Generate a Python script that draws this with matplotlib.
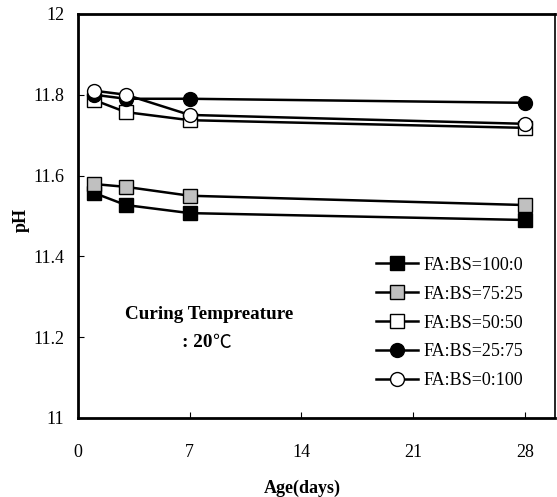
import matplotlib
matplotlib.use("Agg")
import matplotlib.pyplot as plt

days = [1, 3, 7, 28]
series_labels = ["FA:BS=100:0", "FA:BS=75:25", "FA:BS=50:50", "FA:BS=25:75", "FA:BS=0:100"]
ph_100_0 = [11.557, 11.527, 11.507, 11.490]
ph_75_25 = [11.579, 11.572, 11.550, 11.527]
ph_50_50 = [11.787, 11.757, 11.737, 11.718]
ph_25_75 = [11.800, 11.790, 11.790, 11.780]
ph_0_100 = [11.810, 11.800, 11.750, 11.728]
xticks = [0, 7, 14, 21, 28]
yticks = [11.0, 11.2, 11.4, 11.6, 11.8, 12.0]
ytick_labels = ["11", "11.2", "11.4", "11.6", "11.8", "12"]

plt.rcParams['font.family'] = ['Liberation Serif', 'DejaVu Serif']
plt.rcParams['font.size'] = 13

fig = plt.figure(figsize=(5.57, 4.97), dpi=100)
ax = fig.add_axes([0.140, 0.159, 0.857, 0.813])

styles = [
    dict(marker='s', mfc='black'),
    dict(marker='s', mfc='#c0c0c0'),
    dict(marker='s', mfc='white'),
    dict(marker='o', mfc='black'),
    dict(marker='o', mfc='white'),
]
for vals, lab, st in zip([ph_100_0, ph_75_25, ph_50_50, ph_25_75, ph_0_100], series_labels, styles):
    ax.plot(days, vals, color='black', lw=1.8, marker=st['marker'], mfc=st['mfc'],
            mec='black', mew=1.0, ms=10, label=lab, clip_on=False)

ax.set_xlim(0, 29.9)
ax.set_ylim(11, 12)
ax.set_xticks(xticks)
ax.set_yticks(yticks)
ax.set_yticklabels(ytick_labels)
ax.tick_params(direction='in', length=4, width=0.8)
ax.tick_params(axis='x', pad=19)
ax.tick_params(axis='y', pad=10)
for s in ax.spines.values():
    s.set_linewidth(2.0)
ax.spines['right'].set_linewidth(1.2)

ax.set_ylabel('pH', fontweight='bold')
ax.yaxis.set_label_coords(-0.10, 0.49)
ax.set_xlabel('Age(days)', fontweight='bold')
ax.xaxis.set_label_coords(0.47, -0.152)

ax.text(8.2, 11.255, 'Curing Tempreature', ha='center', va='center', fontweight='bold', fontsize=13.8)
ax.text(8.4, 11.186, ': 20', ha='right', va='center', fontweight='bold', fontsize=13.8)
ax.text(8.4, 11.186, '℃', ha='left', va='center', family=['Noto Sans CJK KR', 'DejaVu Sans'], fontsize=13.5)

leg = ax.legend(loc='center left', bbox_to_anchor=(0.625, 0.235), frameon=False,
                borderaxespad=0, borderpad=0, handlelength=2.3, handletextpad=0.3,
                labelspacing=0.66)

fig.savefig('out.png', dpi=100)
